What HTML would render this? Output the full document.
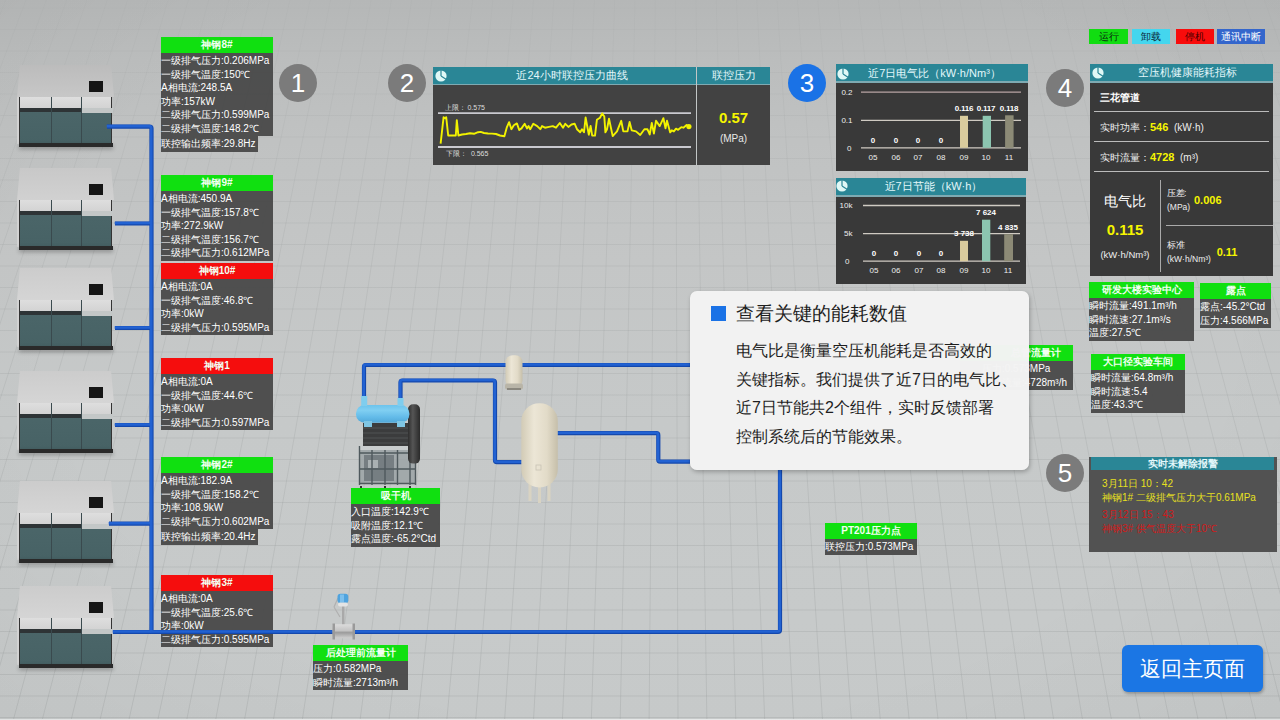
<!DOCTYPE html>
<html><head><meta charset="utf-8">
<style>
*{margin:0;padding:0;box-sizing:border-box}
html,body{width:1280px;height:720px;overflow:hidden}
body{position:relative;font-family:"Liberation Sans",sans-serif;background:#c9cacb}
.abs{position:absolute}
#floor{position:absolute;left:0;top:0;width:1280px;height:720px;background:linear-gradient(180deg,#b5b7b7 0px,#bbbdbd 60px,#c0c2c2 140px,#c4c6c6 260px,#c6c9c9 420px,#c7caca 620px,#c6c9c9 720px)}
/* compressor */
.cmp{position:absolute;left:17px;width:97px;height:86px}
.cmp .top{position:absolute;left:0;top:0;width:97px;height:32px;background:linear-gradient(180deg,#cccccc,#d5d5d5);clip-path:polygon(3% 0,97% 0,100% 100%,0 100%)}
.cmp .sq{position:absolute;left:72px;top:16px;width:14px;height:11px;background:#151515}
.cmp .front{position:absolute;left:2px;top:32px;width:93px;height:46px;background:linear-gradient(180deg,#4c676a,#476265);border-left:1px solid #333;border-right:1px solid #333}
.cmp .wb{position:absolute;left:0;top:0;width:100%;height:11px;background:linear-gradient(180deg,#dedede,#d3d3d3)}
.cmp .db{position:absolute;left:0;top:11px;width:61px;height:4px;background:#2e3436}
.cmp .lb{position:absolute;left:61px;top:11px;width:32px;height:5px;background:#c3c7c7}
.cmp .dv{position:absolute;top:0;width:1px;height:100%;background:#3a4a4e}
.cmp .side{position:absolute;left:0;top:32px;width:2.5px;height:47px;background:#d2d2d2}
.cmp .base{position:absolute;left:2px;top:78px;width:94px;height:4px;background:#2a2a2a;box-shadow:0 2px 4px rgba(0,0,0,.3)}
/* info boxes */
.ib{position:absolute;color:#fff;font-size:10px;line-height:13.6px;white-space:nowrap}
.ib .h{height:16px;line-height:16px;text-align:center;font-weight:bold;font-size:10px;color:#f2fff2}
.ib .g{background:#10e010}
.ib .r{background:#f50d0d}
.ib .b{background:rgba(70,70,70,.93);padding-top:1px}
.ib .x{background:rgba(70,70,70,.93);display:inline-block;height:16px;line-height:16px}
.circ{position:absolute;width:38px;height:38px;border-radius:50%;background:#7b7b7b;color:#fff;font-size:26px;line-height:38px;text-align:center}

.pn{position:absolute;background:#3e3e3e}
.ph{position:absolute;top:0;height:17px;line-height:17px;background:#2a8696;color:#e3f7fa;text-align:center;font-size:11px}
.pl{position:absolute;top:17px;height:1px;background:#7eaab2}
.tx{position:absolute;white-space:nowrap;line-height:1}
.ax{font-size:8px;color:#eee;margin-left:-1.5px}
.xl{font-size:8px;color:#eee;width:22px;text-align:center}
.bl{font-size:8px;color:#fff;font-weight:bold;width:22px;text-align:center}

.lg{position:absolute;top:29px;height:15px;line-height:15px;font-size:10px;text-align:center}
.cj{display:inline-block;width:1em;text-align:center;text-indent:0}
</style></head><body>
<div id="floor"></div>
<svg id="floorsvg" class="abs" style="left:0;top:0" width="1280" height="720" viewBox="0 0 1280 720"><defs><linearGradient id="fl" gradientUnits="userSpaceOnUse" x1="0" y1="0" x2="0" y2="720"><stop offset="0" stop-color="#969a9a" stop-opacity=".08"/><stop offset=".3" stop-color="#969a9a" stop-opacity=".2"/><stop offset="1" stop-color="#969a9a" stop-opacity=".3"/></linearGradient></defs><path d="M-275.7 720L5.7 0M-246.8 720L26.0 0M-217.9 720L46.3 0M-189.0 720L66.6 0M-160.1 720L86.9 0M-131.2 720L107.2 0M-102.3 720L127.5 0M-73.4 720L147.8 0M-44.5 720L168.1 0M-15.6 720L188.4 0M13.3 720L208.7 0M42.2 720L229.0 0M71.1 720L249.3 0M100.0 720L269.6 0M128.9 720L289.9 0M157.8 720L310.2 0M186.7 720L330.5 0M215.6 720L350.8 0M244.5 720L371.1 0M273.4 720L391.4 0M302.3 720L411.7 0M331.2 720L432.0 0M360.1 720L452.3 0M389.0 720L472.6 0M417.9 720L492.9 0M446.8 720L513.2 0M475.7 720L533.5 0M504.6 720L553.8 0M533.5 720L574.1 0M562.4 720L594.4 0M591.3 720L614.7 0M620.2 720L635.0 0M649.1 720L655.3 0M678.0 720L675.6 0M706.9 720L695.9 0M735.8 720L716.2 0M764.7 720L736.5 0M793.6 720L756.8 0M822.5 720L777.1 0M851.4 720L797.4 0M880.3 720L817.7 0M909.2 720L838.0 0M938.1 720L858.3 0M967.0 720L878.6 0M995.9 720L898.9 0M1024.8 720L919.2 0M1053.7 720L939.5 0M1082.6 720L959.8 0M1111.5 720L980.1 0M1140.4 720L1000.4 0M1169.3 720L1020.7 0M1198.2 720L1041.0 0M1227.1 720L1061.4 0M1256.0 720L1081.7 0M1284.9 720L1102.0 0M1313.8 720L1122.3 0M1342.7 720L1142.6 0M1371.6 720L1162.9 0M1400.5 720L1183.2 0M1429.4 720L1203.5 0M1458.3 720L1223.8 0M1487.2 720L1244.1 0M1516.1 720L1264.4 0M1545.0 720L1284.7 0" stroke="url(#fl)" stroke-width="1" fill="none"/><path d="M0 717.5H1280M0 696.0H1280M0 674.5H1280M0 653.0H1280M0 631.5H1280M0 610.0H1280M0 588.5H1280M0 567.0H1280M0 545.5H1280M0 524.0H1280M0 502.5H1280M0 481.0H1280M0 459.5H1280M0 438.0H1280M0 416.5H1280M0 395.0H1280M0 373.5H1280M0 352.0H1280M0 330.5H1280M0 309.0H1280M0 287.5H1280M0 266.0H1280M0 244.5H1280M0 223.0H1280M0 201.5H1280M0 180.0H1280M0 158.5H1280M0 137.0H1280M0 115.5H1280M0 94.0H1280M0 72.5H1280M0 51.0H1280M0 29.5H1280M0 8.0H1280" stroke="url(#fl)" stroke-width="1" fill="none"/></svg>

<div class="abs" style="left:0;top:719px;width:1280px;height:1px;background:#e6e8e8"></div>
<div class="abs" style="left:0;top:0;width:1280px;height:720px;background:radial-gradient(ellipse 75% 90% at 50% 45%,rgba(0,0,0,0) 60%,rgba(0,0,0,.035) 100%)"></div>
<!-- compressors -->
<div class="cmp" style="top:65px"><div class="top" style="background:linear-gradient(180deg,#bcbcbc,#c7c7c7)"></div><div class="side"></div><div class="sq"></div><div class="front"><div class="wb"></div><div class="db"></div><div class="lb"></div><div class="dv" style="left:31px"></div><div class="dv" style="left:61px"></div></div><div class="base"></div></div>
<div class="cmp" style="top:168px"><div class="top" style="background:linear-gradient(180deg,#c8c8c8,#d1d1d1)"></div><div class="side"></div><div class="sq"></div><div class="front"><div class="wb"></div><div class="db"></div><div class="lb"></div><div class="dv" style="left:31px"></div><div class="dv" style="left:61px"></div></div><div class="base"></div></div>
<div class="cmp" style="top:268px"><div class="top"></div><div class="side"></div><div class="sq"></div><div class="front"><div class="wb"></div><div class="db"></div><div class="lb"></div><div class="dv" style="left:31px"></div><div class="dv" style="left:61px"></div></div><div class="base"></div></div>
<div class="cmp" style="top:371px"><div class="top"></div><div class="side"></div><div class="sq"></div><div class="front"><div class="wb"></div><div class="db"></div><div class="lb"></div><div class="dv" style="left:31px"></div><div class="dv" style="left:61px"></div></div><div class="base"></div></div>
<div class="cmp" style="top:481px"><div class="top"></div><div class="side"></div><div class="sq"></div><div class="front"><div class="wb"></div><div class="db"></div><div class="lb"></div><div class="dv" style="left:31px"></div><div class="dv" style="left:61px"></div></div><div class="base"></div></div>
<div class="cmp" style="top:586px"><div class="top"></div><div class="side"></div><div class="sq"></div><div class="front"><div class="wb"></div><div class="db"></div><div class="lb"></div><div class="dv" style="left:31px"></div><div class="dv" style="left:61px"></div></div><div class="base"></div></div>



<!-- left info boxes -->
<div class="ib" style="left:161px;top:37px;width:112px">
<div class="h g">神钢8#</div>
<div class="b" style="height:83px">一级排气压力:0.206MPa<br>一级排气温度:150℃<br>A相电流:248.5A<br>功率:157kW<br>二级排气压力:0.599MPa<br>二级排气温度:148.2℃</div>
<div class="x" style="width:97px">联控输出频率:29.8Hz</div>
</div>


<div class="ib" style="left:161px;top:175px;width:112px">
<div class="h g">神钢9#</div>
<div class="b" style="height:70px">A相电流:450.9A<br>一级排气温度:157.8℃<br>功率:272.9kW<br>二级排气温度:156.7℃<br>二级排气压力:0.612MPa</div>
</div>
<div class="ib" style="left:161px;top:263px;width:112px">
<div class="h r">神钢10#</div>
<div class="b" style="height:56px">A相电流:0A<br>一级排气温度:46.8℃<br>功率:0kW<br>二级排气压力:0.595MPa</div>
</div>
<div class="ib" style="left:161px;top:358px;width:112px">
<div class="h r">神钢1</div>
<div class="b" style="height:56px">A相电流:0A<br>一级排气温度:44.6℃<br>功率:0kW<br>二级排气压力:0.597MPa</div>
</div>
<div class="ib" style="left:161px;top:457px;width:112px">
<div class="h g">神钢2#</div>
<div class="b" style="height:56px">A相电流:182.9A<br>一级排气温度:158.2℃<br>功率:108.9kW<br>二级排气压力:0.602MPa</div>
<div class="x" style="width:97px">联控输出频率:20.4Hz</div>
</div>
<div class="ib" style="left:161px;top:575px;width:112px">
<div class="h r">神钢3#</div>
<div class="b" style="height:56px">A相电流:0A<br>一级排气温度:25.6℃<br>功率:0kW<br>二级排气压力:0.595MPa</div>
</div>
<div class="ib" style="left:351px;top:488px;width:89px">
<div class="h g">吸干机</div>
<div class="b" style="height:43px">入口温度:142.9℃<br>吸附温度:12.1℃<br>露点温度:-65.2°Ctd</div>
</div>
<div class="ib" style="left:313px;top:645px;width:95px">
<div class="h g">后处理前流量计</div>
<div class="b" style="height:29px">压力:0.582MPa<br>瞬时流量:2713m³/h</div>
</div>
<div class="ib" style="left:825px;top:523px;width:92px">
<div class="h g">PT201压力点</div>
<div class="b" style="height:16px">联控压力:0.573MPa</div>
</div>
<div class="ib" style="left:1089px;top:282px;width:105px">
<div class="h g">研发大楼实验中心</div>
<div class="b" style="height:43px">瞬时流量:491.1m³/h<br>瞬时流速:27.1m³/s<br>温度:27.5℃</div>
</div>
<div class="ib" style="left:1200px;top:283px;width:71px">
<div class="h g">露点</div>
<div class="b" style="height:29px">露点:-45.2°Ctd<br>压力:4.566MPa</div>
</div>
<div class="ib" style="left:1091px;top:354px;width:94px">
<div class="h g">大口径实验车间</div>
<div class="b" style="height:43px">瞬时流量:64.8m³/h<br>瞬时流速:5.4<br>温度:43.3℃</div>
</div>
<div class="ib" style="left:960px;top:345px;width:113px">
<div class="h g" style="text-align:right;padding-right:12px">总管流量计</div>
<div class="b" style="height:29px;padding-left:22px">压力:0.573MPa<br>瞬时流量:4728m³/h</div>
</div>


<!-- pipes -->
<svg class="abs" style="left:0;top:0" width="1280" height="720" viewBox="0 0 1280 720">
<g fill="none" stroke="#1448ad" stroke-width="4.2" stroke-linejoin="round">
<path d="M107 126.6H149.5Q151.5 126.6 151.5 128.6V632H778Q780 632 780 630V470"/>
<path d="M115 223.5H151.5M115 328H151.5M115 425H151.5M109 523.7H151.5M113 632H151.5"/>
<path d="M364 400V367Q364 365 366 365H690"/>
<path d="M400.5 402V382.5Q400.5 380.5 402.5 380.5H493Q495 380.5 495 382.5V460.2Q495 462.2 497 462.2H523"/>
<path d="M557 433.2H656.3Q658.3 433.2 658.3 435.2V459.7Q658.3 461.7 660.3 461.7H690"/>
</g>
<g fill="none" stroke="#2262d2" stroke-width="2.6" stroke-linejoin="round" transform="translate(-0.3,-0.5)">
<path d="M107 126.6H149.5Q151.5 126.6 151.5 128.6V632H778Q780 632 780 630V470"/>
<path d="M115 223.5H151.5M115 328H151.5M115 425H151.5M109 523.7H151.5M113 632H151.5"/>
<path d="M364 400V367Q364 365 366 365H690"/>
<path d="M400.5 402V382.5Q400.5 380.5 402.5 380.5H493Q495 380.5 495 382.5V460.2Q495 462.2 497 462.2H523"/>
<path d="M557 433.2H656.3Q658.3 433.2 658.3 435.2V459.7Q658.3 461.7 660.3 461.7H690"/>
</g>
</svg>
<!-- panel 2 -->
<div class="pn" style="left:433px;top:67px;width:337px;height:98px;background:#424242">
 <div class="ph" style="left:0;width:263px;padding-left:15px">近24小时联控压力曲线</div>
 <div class="ph" style="left:264px;width:73px">联控压力</div>
 <div class="pl" style="left:0;width:337px"></div>
 <div class="abs" style="left:263px;top:0;width:1.2px;height:98px;background:#c2c6c6"></div>
</div>
<svg class="abs" style="left:434.0px;top:68.7px" width="14" height="14" viewBox="0 0 14 14"><circle cx="7" cy="7" r="5.6" fill="#e0f8f6"/><path d="M7 7V1M7 7L12 10.2" stroke="#2a8696" stroke-width="1.2" fill="none"/></svg>
<svg class="abs" style="left:0;top:0" width="1280" height="720" viewBox="0 0 1280 720">
 <path d="M438 113.1H691M438 147H691" stroke="#c9c9cf" stroke-width="1.8"/>
 <path d="M440.6 143.6 L443.6 117.2 L445.2 118.2 L446.2 117.2 L448.2 135.5 L455.8 135.5 L456.8 120.2 L458.4 135.5 L462.0 134.5 L466.0 134.0 L470.0 133.2 L474.0 133.8 L478.0 132.2 L480.7 131.9 L484.0 133.0 L488.0 133.5 L492.0 133.6 L496.0 134.0 L500.0 135.5 L504.4 136.3 L506.7 127.7 L509.1 122.2 L511.4 129.2 L513.8 125.3 L516.9 123.4 L519.2 130.0 L521.5 128.4 L524.7 123.8 L527.0 128.4 L528.6 126.1 L530.2 129.2 L533.3 123.8 L537.2 126.1 L540.3 129.2 L542.0 126.1 L545.0 127.7 L549.0 126.9 L552.8 126.1 L556.0 127.7 L559.8 123.0 L563.0 127.7 L565.3 123.8 L568.4 126.9 L571.5 124.5 L574.7 123.8 L577.0 129.2 L580.2 132.3 L582.0 129.2 L584.0 132.3 L585.6 117.5 L588.8 134.7 L590.6 126.0 L592.2 135.6 L595.0 135.6 L596.9 119.8 L600.0 117.7 L602.2 113.4 L604.3 116.6 L605.4 132.4 L607.0 129.3 L609.0 118.7 L612.7 136.1 L617.0 131.4 L621.2 120.8 L623.3 131.4 L627.5 131.4 L629.6 121.9 L631.7 130.3 L636.0 131.4 L640.2 135.0 L644.4 129.3 L647.5 129.3 L649.7 134.5 L651.8 122.9 L653.9 133.5 L656.0 120.8 L659.7 126.1 L663.4 118.2 L665.5 128.2 L667.0 120.8 L670.2 132.4 L671.8 130.3 L673.9 131.4 L676 128.7 L678.1 129.8 L681.3 127.2 L683.4 127.7 L686.6 125 L688.9 126.6" fill="none" stroke="#f2f200" stroke-width="1.9" stroke-linejoin="round"/>
 <circle cx="688.9" cy="126.6" r="2.6" fill="#f2f200"/>
</svg>
<div class="tx" style="left:444.5px;top:104px;font-size:7px;color:#ddd">上限：&nbsp;0.575</div>
<div class="tx" style="left:446px;top:150px;font-size:7px;color:#ddd">下限：&nbsp;&nbsp;0.565</div>
<div class="tx" style="left:697px;top:110px;width:73px;text-align:center;font-size:15px;font-weight:bold;color:#f5f500">0.57</div>
<div class="tx" style="left:697px;top:134px;width:73px;text-align:center;font-size:10px;color:#e8e8e8">(MPa)</div>

<!-- panel 3a -->
<div class="pn" style="left:836px;top:64px;width:192px;height:107px;background:#393939">
 <div class="ph" style="left:0;width:192px;height:17px;line-height:18px;padding-left:5px">近7日电气比（kW·h/Nm³）</div><div class="pl" style="left:0;width:192px;height:1.5px"></div>
</div>
<svg class="abs" style="left:836.0px;top:66.7px" width="14" height="14" viewBox="0 0 14 14"><circle cx="7" cy="7" r="5.6" fill="#e0f8f6"/><path d="M7 7V1M7 7L12 10.2" stroke="#2a8696" stroke-width="1.2" fill="none"/></svg>
<svg class="abs" style="left:0;top:0" width="1280" height="720" viewBox="0 0 1280 720">
 <path d="M861 92.2H1021" stroke="#b8a4a4" stroke-width="1.3"/>
 <path d="M861 120.4H1021M861 147.8H1021" stroke="#cfcac2" stroke-width="1.3"/>
 <rect x="960" y="115.8" width="8" height="32" fill="#d9cb9d"/>
 <rect x="982.7" y="115.8" width="8.3" height="32" fill="#8cc5b0"/>
 <rect x="1005.1" y="115.3" width="8.5" height="32.5" fill="#8c8a76"/>
</svg>
<div class="tx ax" style="left:836px;top:89px;width:18px;text-align:right">0.2</div>
<div class="tx ax" style="left:836px;top:117px;width:18px;text-align:right">0.1</div>
<div class="tx ax" style="left:836px;top:145px;width:17px;text-align:right">0</div>
<div class="tx xl" style="left:862px;top:154px">05</div><div class="tx xl" style="left:885px;top:154px">06</div><div class="tx xl" style="left:907px;top:154px">07</div><div class="tx xl" style="left:930px;top:154px">08</div><div class="tx xl" style="left:953px;top:154px">09</div><div class="tx xl" style="left:975px;top:154px">10</div><div class="tx xl" style="left:998px;top:154px">11</div>
<div class="tx bl" style="left:862px;top:137px">0</div><div class="tx bl" style="left:885px;top:137px">0</div><div class="tx bl" style="left:907px;top:137px">0</div><div class="tx bl" style="left:930px;top:137px">0</div>
<div class="tx bl" style="left:953px;top:105px;letter-spacing:-.2px">0.116</div><div class="tx bl" style="left:975px;top:105px;letter-spacing:-.2px">0.117</div><div class="tx bl" style="left:998px;top:105px;letter-spacing:-.2px">0.118</div>

<!-- panel 3b -->
<div class="pn" style="left:836px;top:178px;width:190px;height:106px;background:#393939">
 <div class="ph" style="left:0;width:190px;height:17px;line-height:17px;padding-left:5px">近7日节能（kW·h）</div><div class="pl" style="left:0;width:190px;height:1.5px"></div>
</div>
<svg class="abs" style="left:835.0px;top:179.3px" width="14" height="14" viewBox="0 0 14 14"><circle cx="7" cy="7" r="5.6" fill="#e0f8f6"/><path d="M7 7V1M7 7L12 10.2" stroke="#2a8696" stroke-width="1.2" fill="none"/></svg>
<svg class="abs" style="left:0;top:0" width="1280" height="720" viewBox="0 0 1280 720">
 <path d="M863 205.5H1020M863 233.7H1020M863 261.2H1020" stroke="#cfcac2" stroke-width="1.3"/>
 <rect x="960" y="240.8" width="8" height="20.4" fill="#d9cb9d"/>
 <rect x="982" y="219.7" width="8.3" height="41.5" fill="#8cc5b0"/>
 <rect x="1004.2" y="234.2" width="8.8" height="27" fill="#8c8a76"/>
</svg>
<div class="tx ax" style="left:836px;top:202px;width:18px;text-align:right">10k</div>
<div class="tx ax" style="left:836px;top:230px;width:18px;text-align:right">5k</div>
<div class="tx ax" style="left:836px;top:258px;width:15px;text-align:right">0</div>
<div class="tx xl" style="left:863px;top:267px">05</div><div class="tx xl" style="left:885px;top:267px">06</div><div class="tx xl" style="left:908px;top:267px">07</div><div class="tx xl" style="left:930px;top:267px">08</div><div class="tx xl" style="left:953px;top:267px">09</div><div class="tx xl" style="left:975px;top:267px">10</div><div class="tx xl" style="left:997px;top:267px">11</div>
<div class="tx bl" style="left:863px;top:250px">0</div><div class="tx bl" style="left:885px;top:250px">0</div><div class="tx bl" style="left:908px;top:250px">0</div><div class="tx bl" style="left:930px;top:250px">0</div>
<div class="tx bl" style="left:953px;top:230px">3 738</div><div class="tx bl" style="left:975px;top:209px">7 624</div><div class="tx bl" style="left:997px;top:224px">4 835</div>

<!-- panel 4 -->
<div class="pn" style="left:1090px;top:64px;width:183px;height:212px;background:#393939">
 <div class="ph" style="left:0;width:183px;height:17px;line-height:17px;padding-left:12px">空压机健康能耗指标</div><div class="pl" style="left:0;width:183px;height:1.5px"></div>
 <div class="abs" style="left:4px;top:47px;width:175px;height:1px;background:#bbb"></div>
 <div class="abs" style="left:4px;top:77px;width:175px;height:1px;background:#bbb"></div>
 <div class="abs" style="left:4px;top:107px;width:175px;height:1px;background:#bbb"></div>
 <div class="abs" style="left:70px;top:116px;width:1px;height:92px;background:#aaa"></div>
 <div class="abs" style="left:76px;top:161px;width:107px;height:1px;background:#aaa"></div>
 <div class="tx" style="left:10px;top:29px;font-size:10px;font-weight:bold;color:#fff">三花管道</div>
 <div class="tx" style="left:10px;top:58px;font-size:10px;color:#eee">实时功率：<b style="color:#f5f500;font-size:11px">546</b>&nbsp; (kW·h)</div>
 <div class="tx" style="left:10px;top:88px;font-size:10px;color:#eee">实时流量：<b style="color:#f5f500;font-size:11px">4728</b>&nbsp; (m³)</div>
 <div class="tx" style="left:0;top:130px;width:70px;text-align:center;font-size:14px;color:#fff">电气比</div>
 <div class="tx" style="left:0;top:158px;width:70px;text-align:center;font-size:15px;font-weight:bold;color:#f5f500">0.115</div>
 <div class="tx" style="left:0;top:186px;width:70px;text-align:center;font-size:9.5px;color:#eee">(kW·h/Nm³)</div>
 <div class="tx" style="left:77px;top:122px;font-size:8.5px;color:#eee;line-height:14px">压差:<br>(MPa)</div>
 <div class="tx" style="left:104px;top:131px;font-size:11px;font-weight:bold;color:#f5f500">0.006</div>
 <div class="tx" style="left:77px;top:174px;font-size:8.5px;color:#eee;line-height:14px">标准<br>(kW·h/Nm³)</div>
 <div class="tx" style="left:126.7px;top:182.5px;font-size:11px;font-weight:bold;color:#f5f500">0.11</div>
</div>
<svg class="abs" style="left:1090.5px;top:66.4px" width="14" height="14" viewBox="0 0 14 14"><circle cx="7" cy="7" r="5.6" fill="#e0f8f6"/><path d="M7 7V1M7 7L12 10.2" stroke="#2a8696" stroke-width="1.2" fill="none"/></svg>

<!-- panel 5 alarm -->
<div class="pn" style="left:1089px;top:457px;width:188px;height:95px;background:#525252">
 <div class="ph" style="left:2px;width:183px;height:13px;line-height:13px;font-weight:bold;font-size:10px;padding-left:0">实时未解除报警</div>
 <div class="tx" style="left:13px;top:20px;font-size:10px;color:#e8e020;line-height:14px">3月11日 10：42<br>神钢1# 二级排气压力大于0.61MPa</div>
 <div class="tx" style="left:13px;top:51px;font-size:10px;color:#cf1a1a;line-height:14px">3月12日 15：43<br>神钢3# 供气温度大于10℃</div>
</div>

<div class="circ" style="left:279px;top:64px">1</div>
<div class="circ" style="left:388px;top:64px">2</div>
<div class="circ" style="left:788px;top:64px;background:#1a72e6">3</div>
<div class="circ" style="left:1046px;top:69px">4</div>
<div class="circ" style="left:1046px;top:454px">5</div>


<!-- equipment -->
<svg class="abs" style="left:0;top:0" width="1280" height="720" viewBox="0 0 1280 720">
 <defs>
  <linearGradient id="tankg" x1="0" x2="1" y1="0" y2="0"><stop offset="0" stop-color="#d2cbb6"/><stop offset=".35" stop-color="#ece6d6"/><stop offset=".7" stop-color="#e2dbc8"/><stop offset="1" stop-color="#c6bfaa"/></linearGradient>
  <linearGradient id="cyang" x1="0" x2="0" y1="0" y2="1"><stop offset="0" stop-color="#6cc3ec"/><stop offset=".3" stop-color="#80cff2"/><stop offset=".7" stop-color="#62bae8"/><stop offset="1" stop-color="#52a8d8"/></linearGradient>
  <linearGradient id="blkg" x1="0" x2="1" y1="0" y2="0"><stop offset="0" stop-color="#2e2e2e"/><stop offset=".4" stop-color="#555"/><stop offset="1" stop-color="#2a2a2a"/></linearGradient>
  <linearGradient id="silg" x1="0" x2="0" y1="0" y2="1"><stop offset="0" stop-color="#dcdcdc"/><stop offset=".45" stop-color="#c4c4c4"/><stop offset=".6" stop-color="#9c9c9c"/><stop offset="1" stop-color="#cfcfcf"/></linearGradient>
 </defs>
 <!-- dryer frame -->
 <rect x="359" y="446" width="57" height="38" fill="#9ba3a6" opacity=".85"/>
 <rect x="359" y="446" width="57" height="4" fill="#c9cdce"/>
 <rect x="364" y="455" width="30" height="26" fill="#646c70" opacity=".7"/>
 <rect x="368" y="460" width="10" height="8" fill="#a9b0b2"/>
 <g stroke="#4f595d" stroke-width="1.4" fill="none">
  <path d="M359.5 446V485M372 450V485M385 450V485M397.5 450V485M410 450V485M415.5 446V485M359 453H416M359 469H416M359 483.5H416"/>
 </g>
 <path d="M361 486V488M385 486V488M410 486V488" stroke="#333" stroke-width="2"/>
 <rect x="363" y="423" width="46" height="23" fill="#3b3c3d"/>
 <path d="M363 428H409M363 433H409M363 438H409M363 443H409" stroke="#505254" stroke-width="1"/>
 <rect x="408" y="404.2" width="12" height="59.4" rx="5" fill="url(#blkg)"/>
 <rect x="356" y="405" width="53.4" height="17.7" rx="8.5" fill="url(#cyang)"/>
 <rect x="361.2" y="396" width="6" height="10" fill="#7fcdee"/>
 <rect x="397.5" y="398" width="6" height="8" fill="#7fcdee"/>
 <rect x="364" y="421" width="8" height="6" fill="#7fc6e4"/>
 <rect x="397" y="421" width="8" height="6" fill="#7fc6e4"/>
 <!-- filter -->
 <rect x="505.5" y="355.3" width="17" height="32" rx="7" fill="url(#tankg)"/>
 <rect x="505" y="383.5" width="18" height="6" rx="2" fill="#b9b5a8"/><rect x="507" y="388" width="14" height="2" fill="#8a877e"/>
 <!-- tank -->
 <path d="M530 484V501M539.5 486V503M549 484V501" stroke="#d9d3c2" stroke-width="3"/>
 <rect x="521.3" y="403.2" width="36.5" height="84.2" rx="18" fill="url(#tankg)"/>
 <rect x="536" y="465" width="5" height="5" fill="none" stroke="#c8c3b4" stroke-width=".8"/>
 <!-- flowmeter -->
 <path d="M334 607L340 617M338 598L334 607" stroke="#b0b0b0" stroke-width="1.2" fill="none"/>
 <rect x="342" y="605" width="2.4" height="20" fill="#a9a9a9"/>
 <rect x="337.5" y="593.8" width="10.8" height="9.5" rx="3" fill="#4fa3de"/>
 <rect x="340" y="594.5" width="4" height="8" fill="#86c6f0" opacity=".8"/>
 <rect x="338" y="602.5" width="10" height="4" rx="2" fill="#e4e4e4"/>
 <rect x="332.5" y="624.2" width="22.5" height="14" rx="1" fill="url(#silg)"/>
 <rect x="332.5" y="623.5" width="2.5" height="16" fill="#9a9a9a"/>
 <rect x="352.5" y="623.5" width="2.5" height="16" fill="#9a9a9a"/>
</svg>

<!-- popup -->
<div class="abs" style="left:690px;top:291px;width:339px;height:179px;background:rgba(243,243,243,.985);border-radius:7px;box-shadow:1px 2px 4px rgba(0,0,0,.25)">
 <div class="abs" style="left:21px;top:15px;width:15px;height:15px;background:#1a72e6"></div>
 <div class="tx" style="left:46px;top:13px;font-size:19px;color:#1e1e1e;line-height:20px">查看关键的能耗数值</div>
 <div class="tx" style="left:46px;top:46px;font-size:16px;color:#1e1e1e;line-height:28.6px;white-space:nowrap">电气比是衡量空压机能耗是否高效的<br>关键指标。我们提供了近7日的电气比、<br>近7日节能共2个组件，实时反馈部署<br>控制系统后的节能效果。</div>
</div>

<!-- legend -->
<div class="lg" style="left:1089px;width:39px;background:#11dd11;color:#0a2a10">运行</div>
<div class="lg" style="left:1132px;width:38px;background:#44d6ee;color:#0a2a3a">卸载</div>
<div class="lg" style="left:1176px;width:38px;background:#f80c0c;color:#4a0000">停机</div>
<div class="lg" style="left:1217px;width:48px;background:#3466cc;color:#fff">通讯中断</div>

<!-- button -->
<div class="abs" style="left:1122px;top:645px;width:141px;height:47px;background:#1b76e4;border-radius:6px;box-shadow:1px 2px 3px rgba(0,0,0,.25);color:#fff;font-size:21px;line-height:47px;text-align:center">返回主页面</div>
<script>
(function(){
  var re=/[\u2103\u3000-\u303f\u4e00-\u9fff\uff00-\uffef]/;
  var w=document.createTreeWalker(document.body,NodeFilter.SHOW_TEXT,null),n,list=[];
  while(n=w.nextNode()){ if(re.test(n.nodeValue)) list.push(n); }
  list.forEach(function(t){
    var s=t.nodeValue,f=document.createDocumentFragment(),buf='';
    for(var i=0;i<s.length;i++){
      var c=s[i];
      if(re.test(c)){ if(buf){f.appendChild(document.createTextNode(buf));buf='';}
        var sp=document.createElement('span');sp.className='cj';sp.textContent=c;f.appendChild(sp);}
      else buf+=c;
    }
    if(buf) f.appendChild(document.createTextNode(buf));
    t.parentNode.replaceChild(f,t);
  });
})();
</script>
</body></html>
